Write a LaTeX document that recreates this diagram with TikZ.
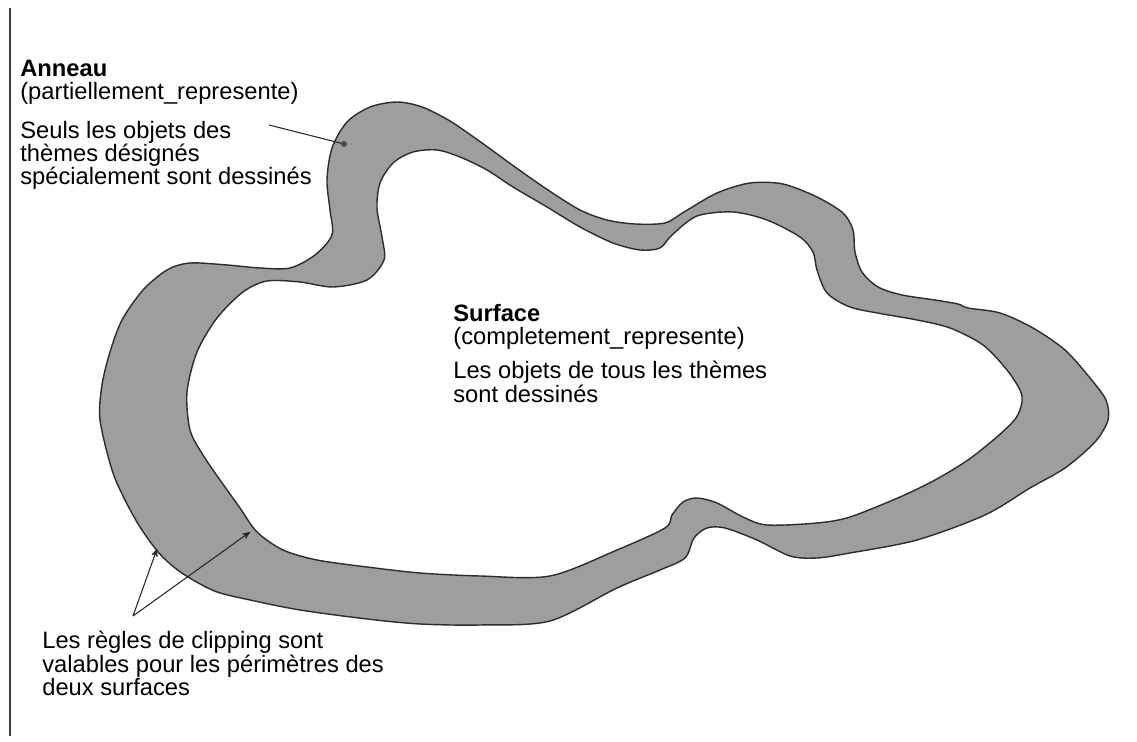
\documentclass[tikz,border=0pt]{standalone}
\usepackage{fontspec}
\setmainfont{Liberation Sans}
\usetikzlibrary{arrows}
\definecolor{ringgray}{RGB}{158,158,158}
\definecolor{edgegray}{RGB}{45,45,45}
\tikzset{
	zonetxt/.style = {align=left, inner sep=0pt, anchor=north west,
		font=\fontsize{13.5}{13.2}\selectfont},
	zone_ext/.style = {fill=ringgray, draw=edgegray, line width=0.8pt},% anneau
	zone_int/.style = {fill=white, draw=edgegray, line width=0.8pt},% surface
	pointer/.style = {draw=black!85, line width=0.6pt}
}

\begin{document}
\begin{tikzpicture}[x=0.02cm, y=-0.02cm, >=stealth']
	\useasboundingbox (0,0) rectangle (1137,742);
	\draw[line width=0.9pt, black!75] (10,8) -- (10,736);
	% anneau (contour exterieur)
	\draw[zone_ext] plot[smooth cycle, tension=0.5] coordinates {
		(100,420) (102,385) (110,352) (122,320) (143,290) (167,270) (190,263)
		(227,265) (260,268) (290,268) (315,255) (332,235) (330,210) (327,180)
		(332,148) (347,122) (370,107) (397,102) (422,107) (450,121) (482,143)
		(515,167) (548,190) (580,210) (607,220) (635,224) (665,223) (684,212)
		(717,193) (750,183) (783,184) (817,197) (843,213) (853,230) (855,252)
		(862,272) (878,287) (902,295) (935,300) (958,304) (968,308) (1000,313)
		(1033,328) (1065,350) (1090,378) (1106,400) (1108,420) (1095,442)
		(1065,468) (1030,488) (985,515) (917,540) (850,553) (817,558) (790,556)
		(757,540) (725,528) (707,528) (694,538) (685,558) (660,570) (617,588)
		(550,621) (480,625) (420,624) (367,619) (300,610) (250,600) (217,592)
		(193,580) (175,568) (158,552) (140,527) (125,500) (112,470)};
	% surface (contour interieur)
	\draw[zone_int] plot[smooth cycle, tension=0.5] coordinates {
		(190,430) (187,392) (197,352) (217,318) (243,292) (267,281) (300,282)
		(333,287) (367,280) (384,260) (382,237) (377,208) (380,183) (393,163)
		(413,152) (437,150) (460,157) (487,170) (513,187) (547,207) (580,227)
		(613,243) (640,250) (660,248) (672,235) (697,216) (733,212) (767,220)
		(800,237) (813,252) (817,270) (827,293) (850,307) (883,314) (917,320)
		(950,328) (983,345) (1007,370) (1020,390) (1022,402) (1016,418)
		(998,436) (968,460) (935,480) (900,497) (850,517) (817,523) (767,525)
		(743,517) (717,503) (697,498) (683,502) (672,515) (665,528) (617,550)
		(550,576) (480,576) (420,573) (367,567) (317,560) (283,550) (257,532)
		(240,508) (220,480) (203,455)};

	\node[zonetxt] (anneau) at (20,60) {\textbf{Anneau}\\(partiellement\_represente)};
	\node[zonetxt] (anneau_note) at (20,121) {Seuls les objets des\\thèmes désignés\\spécialement sont dessinés};
	\node[zonetxt] (surface) at (453,304) {\textbf{Surface}\\(completement\_represente)};
	\node[zonetxt] (surface_note) at (453,361) {Les objets de tous les thèmes\\sont dessinés};
	\node[zonetxt] (clipping) at (42,631) {Les règles de clipping sont\\valables pour les périmètres des\\deux surfaces};

	% renvois
	\coordinate (pt_depart) at (269,125);
	\coordinate (pt_anneau) at (344,144);
	\draw[pointer] (pt_depart) -- (pt_anneau);
	\fill[black!70] (pt_anneau) circle (3);
	\coordinate (fleche_orig) at (133,616);
	\coordinate (bord_ext) at (157,549);
	\coordinate (bord_int) at (250,532);
	\draw[pointer, ->] (fleche_orig) -- (bord_ext);
	\draw[pointer, ->] (fleche_orig) -- (bord_int);
\end{tikzpicture}
\end{document}
